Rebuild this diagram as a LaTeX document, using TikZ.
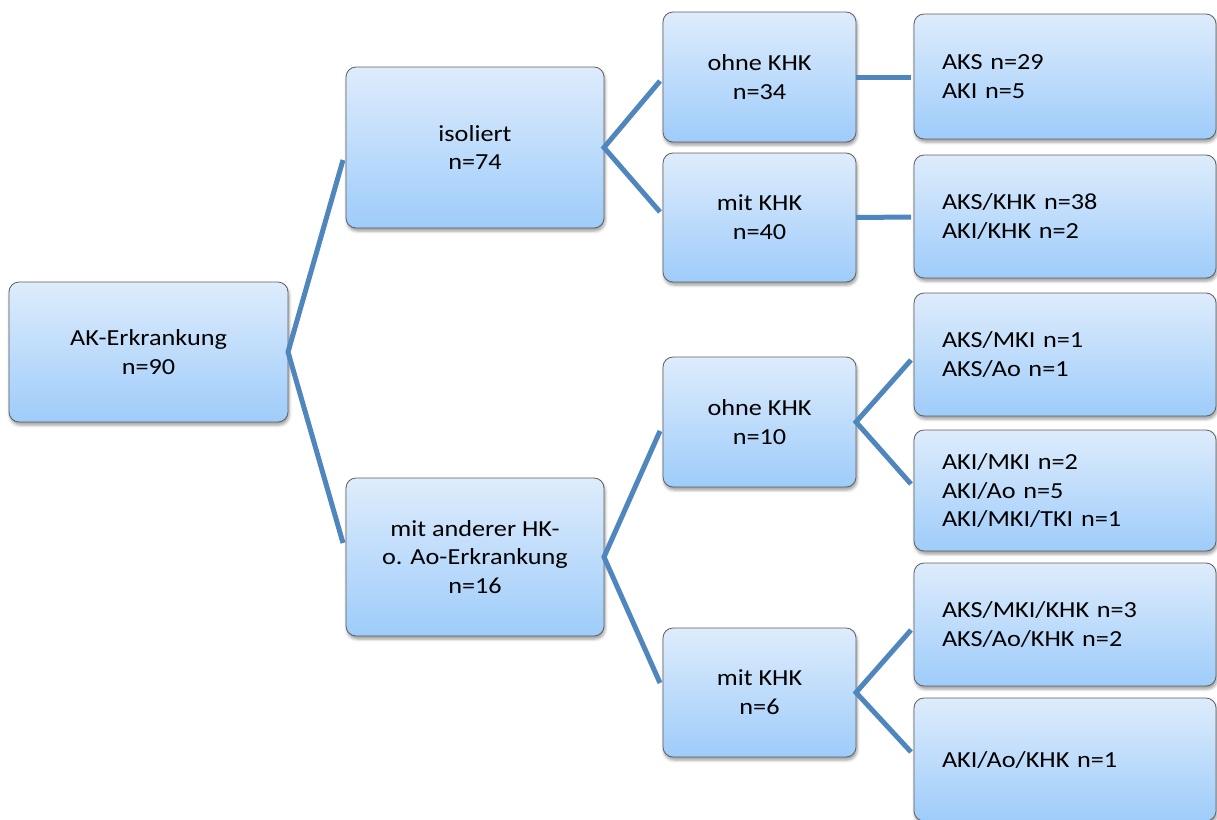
\documentclass[tikz,border=0pt]{standalone}
\usepackage{fontspec}
\setmainfont{Carlito}[FakeStretch=1.14]
\usetikzlibrary{calc,shadows.blur}
\definecolor{boxtop}{RGB}{222,236,252}
\definecolor{boxbot}{RGB}{158,204,250}
\definecolor{boxline}{RGB}{95,95,95}
\definecolor{linkblue}{RGB}{80,134,190}
\begin{document}
\begin{tikzpicture}[x=1pt,y=-1pt,
  box/.style={draw=boxline, line width=0.8pt, rounded corners=10pt,
    top color=boxtop, bottom color=boxbot,
    blur shadow={shadow xshift=1pt, shadow yshift=-3pt, shadow blur radius=3pt, shadow opacity=40},
    font=\fontsize{23}{28.8}\selectfont, inner sep=0pt, outer sep=0pt},
  midbox/.style={box, align=center},
  leafbox/.style={box, align=left, text width=246pt, inner xsep=28pt, minimum width=302pt},
  link/.style={draw=linkblue, line width=5pt}
]
\useasboundingbox (0,0) rectangle (1217,819);

% root
\node[midbox, minimum width=279pt, minimum height=140pt] (root) at (148.5,352) {AK-Erkrankung\\n=90};

% second level
\node[midbox, minimum width=258pt, minimum height=161pt] (iso) at (475,147.5) {isoliert\\n=74};
\node[midbox, minimum width=258pt, minimum height=158pt] (other) at (475,557) {mit anderer HK-\\o. Ao-Erkrankung\\n=16};

% third level
\node[midbox, minimum width=193pt, minimum height=130pt] (isoA) at (759.5,77) {ohne KHK\\n=34};
\node[midbox, minimum width=193pt, minimum height=129pt] (isoB) at (759.5,217.5) {mit KHK\\n=40};
\node[midbox, minimum width=193pt, minimum height=130pt] (othA) at (759.5,422) {ohne KHK\\n=10};
\node[midbox, minimum width=193pt, minimum height=129pt] (othB) at (759.5,692.5) {mit KHK\\n=6};

% leaves
\node[leafbox, minimum height=125pt] (l1) at (1065,76.5) {AKS n=29\\AKI n=5};
\node[leafbox, minimum height=123pt] (l2) at (1065,216.5) {AKS/KHK n=38\\AKI/KHK n=2};
\node[leafbox, minimum height=123pt] (l3) at (1065,354.5) {AKS/MKI n=1\\AKS/Ao n=1};
\node[leafbox, minimum height=121pt] (l4) at (1065,490.5) {AKI/MKI n=2\\AKI/Ao n=5\\AKI/MKI/TKI n=1};
\node[leafbox, minimum height=123pt] (l5) at (1065,624.5) {AKS/MKI/KHK n=3\\AKS/Ao/KHK n=2};
\node[leafbox, minimum height=123pt] (l6) at (1065,759.5) {AKI/Ao/KHK n=1};

% connectors
\draw[link] ($(iso.west)+(-3,12.5)$) -- (root.east) -- ($(other.west)+(-3,-14)$);
\draw[link] ($(isoA.west)+(-3,4)$) -- (iso.east) -- ($(isoB.west)+(-3,-5.5)$);
\draw[link] ($(othA.west)+(-3,9)$) -- (other.east) -- ($(othB.west)+(-3,-9.5)$);
\draw[link] (isoA.east) -- ($(l1.west)+(-3,0.5)$);
\draw[link] (isoB.east) -- ($(l2.west)+(-3,0.5)$);
\draw[link] ($(l3.west)+(-3,5.5)$) -- (othA.east) -- ($(l4.west)+(-3,-6.5)$);
\draw[link] ($(l5.west)+(-3,5.5)$) -- (othB.east) -- ($(l6.west)+(-3,-7.5)$);
\end{tikzpicture}
\end{document}
